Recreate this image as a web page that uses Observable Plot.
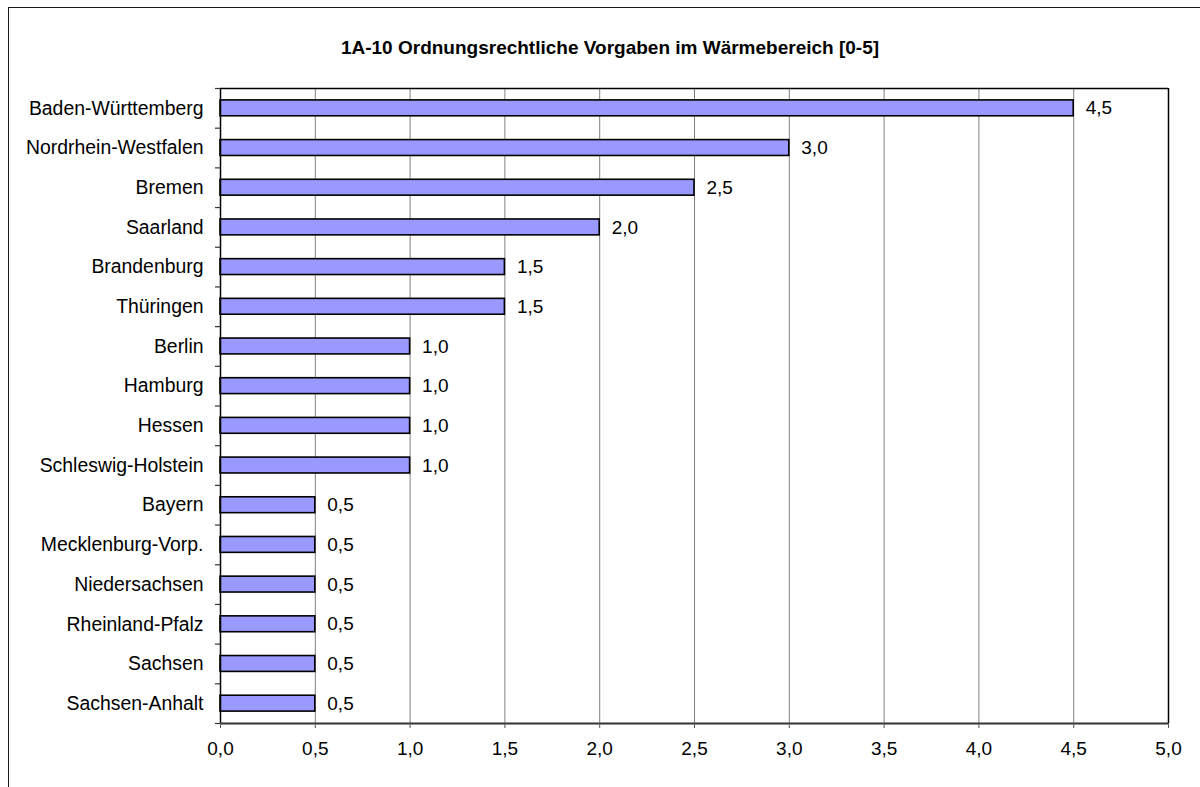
<!DOCTYPE html>
<html>
<head>
<meta charset="utf-8">
<script src="https://cdn.jsdelivr.net/npm/d3@7"></script>
<script src="https://cdn.jsdelivr.net/npm/@observablehq/plot@0.6"></script>
<style>
  html, body { margin: 0; padding: 0; background: #fff; overflow: hidden; }
  #wrap { position: relative; width: 1200px; height: 787px; overflow: hidden; }
  #frame { position: absolute; left: 8px; top: 7px; width: 1400px; height: 1000px; border: 1.5px solid #1a1a1a; pointer-events: none; }
  #title { position: absolute; left: 0; width: 1220px; top: 38px; text-align: center; font: bold 19px "Liberation Sans", Arial, sans-serif; line-height: 19px; color: #000; }
  #chart { position: absolute; left: 0; top: 0; }
</style>
</head>
<body>
<div id="wrap">
  <div id="chart"></div>
  <div id="frame"></div>
  <div id="title">1A-10 Ordnungsrechtliche Vorgaben im Wärmebereich [0-5]</div>
</div>
<script>
const categories = [
  "Baden-Württemberg", "Nordrhein-Westfalen", "Bremen", "Saarland", "Brandenburg",
  "Thüringen", "Berlin", "Hamburg", "Hessen", "Schleswig-Holstein", "Bayern",
  "Mecklenburg-Vorp.", "Niedersachsen", "Rheinland-Pfalz", "Sachsen", "Sachsen-Anhalt"
];
const values = [4.5, 3.0, 2.5, 2.0, 1.5, 1.5, 1.0, 1.0, 1.0, 1.0, 0.5, 0.5, 0.5, 0.5, 0.5, 0.5];
const xTicks = [0, 0.5, 1.0, 1.5, 2.0, 2.5, 3.0, 3.5, 4.0, 4.5, 5.0];

const data = categories.map((name, i) => ({name, value: values[i], i}));
const fmt = v => d3.format(".1f")(v).replace(".", ",");
const n = categories.length;
const boundaries = d3.range(n + 1);
const centers = d3.range(n).map(i => i + 0.5);
const font = '"Liberation Sans", Arial, sans-serif';

const chart = Plot.plot({
  width: 1200,
  height: 787,
  marginLeft: 220,
  marginRight: 32,
  marginTop: 88,
  marginBottom: 64,
  style: {fontFamily: font, fontSize: "19px", color: "#000", background: "transparent"},
  x: {domain: [0, 5], label: null},
  y: {domain: [0, n], reverse: true, label: null},
  marks: [
    Plot.ruleX(xTicks.filter(t => t > 0 && t < 5), {stroke: "#808080", strokeWidth: 1}),
    Plot.rectX(data, {x1: 0, x2: "value", y1: d => d.i + 0.3, y2: d => d.i + 0.7, fill: "#9999FF", stroke: "#000", strokeWidth: 1.6}),
    Plot.text(data, {x: "value", y: d => d.i + 0.5, text: d => fmt(d.value), dx: 12, textAnchor: "start", fontSize: 19, fill: "#000"}),
    Plot.ruleY([0], {stroke: "#000", strokeWidth: 1.5}),
    Plot.ruleX([5], {stroke: "#000", strokeWidth: 1.5}),
    Plot.ruleX([0], {stroke: "#000", strokeWidth: 1.5}),
    Plot.ruleY([n], {stroke: "#333", strokeWidth: 2}),
    Plot.axisY({ticks: boundaries, tickSize: 5, tickFormat: () => "", label: null, stroke: "#333", strokeWidth: 1.2}),
    Plot.axisY({ticks: centers, tickSize: 0, tickPadding: 17, tickFormat: v => categories[Math.round(v - 0.5)], label: null, fontSize: 19.4, fill: "#000"}),
    Plot.axisX({ticks: xTicks, tickSize: 5, tickPadding: 13, tickFormat: fmt, label: null, fontSize: 19, stroke: "#555", fill: "#000"})
  ]
});
document.getElementById("chart").appendChild(chart);
</script>
</body>
</html>
